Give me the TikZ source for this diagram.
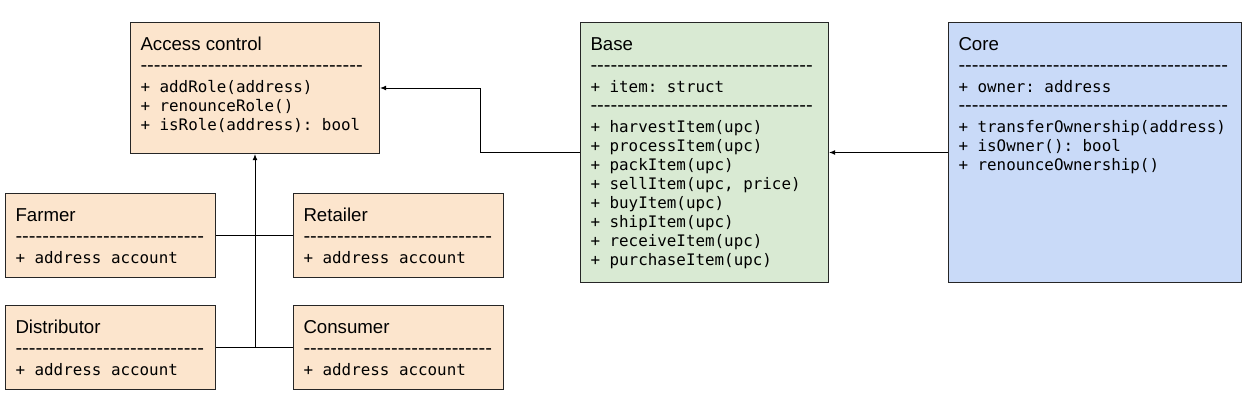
\documentclass[tikz,border=0pt]{standalone}
\usepackage{fontspec}
\usetikzlibrary{arrows.meta}

\newfontfamily\titlefont{Liberation Sans}
\newfontfamily\dashfont{DejaVu Sans}
\newfontfamily\codefont{DejaVu Sans Mono}

\definecolor{roleorange}{HTML}{FCE5CD}
\definecolor{basegreen}{HTML}{D9EAD3}
\definecolor{coreblue}{HTML}{C9DAF8}

\newcommand{\classtitle}[1]{\rule{0pt}{20.65pt}{\titlefont\fontsize{14}{14.3}\selectfont #1}}
\newcommand{\dashline}[1]{{\dashfont\fontsize{14}{14.3}\selectfont\foreach \d in {1,...,#1}{-\kern0pt}}}
\newcommand{\classbody}[3]{\parbox[c][#2][t]{#1}{\frenchspacing\codefont\fontsize{11.9}{14.3}\selectfont #3}}

\tikzset{
Role/.style={draw=black!85, fill=roleorange, rectangle, anchor=north west,
        inner xsep=7.5pt, inner ysep=0pt, line width=0.75pt},
Contract/.style={draw=black!85, rectangle, anchor=north west,
        inner xsep=7.5pt, inner ysep=0pt, line width=0.75pt},
ClassLine/.style={draw=black, line width=0.75pt},
ClassArrow/.style={arrows={-Latex[length=4.5pt, width=3.6pt]}, draw=black, line width=0.75pt},
}

\begin{document}
\begin{tikzpicture}[]
	\useasboundingbox (0,0) rectangle (940.5pt,-306pt);

	% access control and the four roles
	\node[Role] (acc) at (97.5pt,-16.5pt) {\classbody{171.75pt}{98.25pt}{%
		\classtitle{Access control}\\[2pt]
		\dashline{33}\\[1.2pt]
		+ addRole(address)\\
		+ renounceRole()\\
		+ isRole(address): bool}};
	\node[Role] (farmer) at (3.75pt,-144.75pt) {\classbody{142.5pt}{63pt}{%
		\classtitle{Farmer}\\[2pt]
		\dashline{28}\\[1.2pt]
		+ address account}};
	\node[Role] (retailer) at (219.75pt,-144.75pt) {\classbody{142.5pt}{63pt}{%
		\classtitle{Retailer}\\[2pt]
		\dashline{28}\\[1.2pt]
		+ address account}};
	\node[Role] (distributor) at (3.75pt,-228.75pt) {\classbody{142.5pt}{63pt}{%
		\classtitle{Distributor}\\[2pt]
		\dashline{28}\\[1.2pt]
		+ address account}};
	\node[Role] (consumer) at (219.75pt,-228.75pt) {\classbody{142.5pt}{63pt}{%
		\classtitle{Consumer}\\[2pt]
		\dashline{28}\\[1.2pt]
		+ address account}};

	% base and core contracts
	\node[Contract, fill=basegreen] (base) at (435pt,-16.5pt) {\classbody{171pt}{195pt}{%
		\classtitle{Base}\\[2pt]
		\dashline{33}\\[1.2pt]
		+ item: struct\\
		\dashline{33}\\[1.2pt]
		+ harvestItem(upc)\\
		+ processItem(upc)\\
		+ packItem(upc)\\
		+ sellItem(upc, price)\\
		+ buyItem(upc)\\
		+ shipItem(upc)\\
		+ receiveItem(upc)\\
		+ purchaseItem(upc)}};
	\node[Contract, fill=coreblue] (core) at (711pt,-16.5pt) {\classbody{204.75pt}{195pt}{%
		\classtitle{Core}\\[2pt]
		\dashline{40}\\[1.2pt]
		+ owner: address\\
		\dashline{40}\\[1.2pt]
		+ transferOwnership(address)\\
		+ isOwner(): bool\\
		+ renounceOwnership()}};

	\draw[ClassLine] (farmer.east) -- (retailer.west);
	\draw[ClassLine] (distributor.east) -- (consumer.west);
	\draw[ClassArrow] (distributor.east -| acc.south) -- (acc.south);
	\draw[ClassArrow] (base.west) -- ++(-75pt,0) |- (acc.east);
	\draw[ClassArrow] (core.west) -- (base.east);
\end{tikzpicture}
\end{document}
